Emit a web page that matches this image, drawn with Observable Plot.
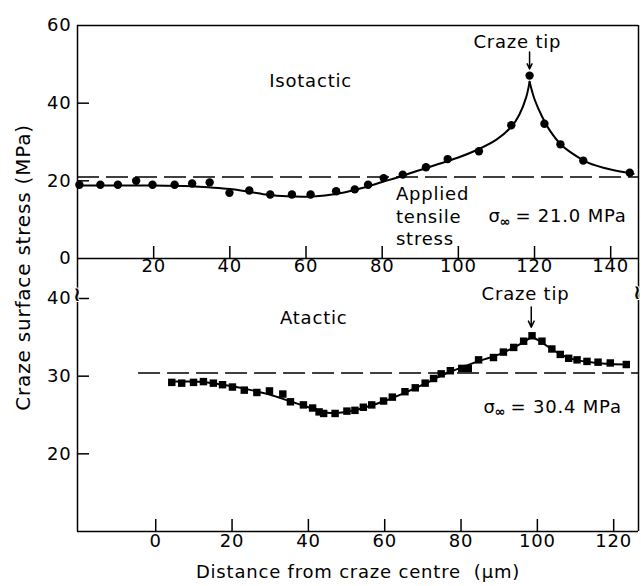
<!DOCTYPE html>
<html><head><meta charset="utf-8">
<script src="https://cdn.jsdelivr.net/npm/d3@7"></script>
<script src="https://cdn.jsdelivr.net/npm/@observablehq/plot@0.6"></script>
<style>
body{margin:0;background:#fff}
#chart{position:relative;width:641px;height:586px;background:#fff}
#chart svg{position:absolute;left:0;top:0}
</style></head><body><div id="chart"></div>
<script>
// ---- Isotactic (top panel) ----
const isoX = [0.5,6.0,10.6,15.4,19.7,25.5,30.1,34.7,39.9,45.1,50.6,56.3,61.2,67.9,72.8,76.3,80.4,85.4,91.5,97.2,105.4,113.9,118.7,122.6,126.8,132.8,145.0];
const isoY = [19.0,19.0,19.0,20.0,19.0,19.0,19.3,19.6,16.9,17.5,16.5,16.5,16.5,17.3,17.8,19.0,20.7,21.6,23.5,25.6,27.6,34.3,47.1,34.7,29.4,25.2,22.1];
const isoCurveLX = [0,10,20,30,35,40,45,50,55,60,65,70,75,80,85,90,95,100,105,110,114,116,117.8,118.7];
const isoCurveLY = [18.8,18.8,18.8,18.6,18.3,17.9,17.2,16.4,16.0,15.9,16.2,17.0,18.2,19.7,21.2,22.8,24.4,26.0,28.0,30.6,34.0,37.0,41.5,45.5];
const isoCurveRX = [118.7,120,122,124,127,130,134,140,146];
const isoCurveRY = [45.5,41.0,36.5,33.0,29.3,27.0,24.7,22.9,21.8];
const isoStress = 21.0;
const isoXTicks = [20,40,60,80,100,120,140];
const isoYTicks = [0,20,40,60];
const isoXDomain = [0,147.3];
const isoYDomain = [0,60];

// ---- Atactic (bottom panel) ----
const atX = [4.2,6.8,9.9,12.5,15.1,17.5,20.1,23.2,26.5,29.8,33.3,35.3,38.7,41.1,42.8,44.0,47.0,50.1,52.2,54.4,56.6,59.7,62.0,65.3,68.0,70.6,72.8,74.8,77.2,80.2,81.9,84.6,88.5,91.1,93.8,96.4,98.6,101.2,103.8,106.0,108.2,110.4,113.0,115.9,119.1,123.3];
const atY = [29.2,29.1,29.2,29.3,29.1,28.9,28.6,28.2,27.9,28.1,27.7,26.7,26.3,25.9,25.4,25.2,25.2,25.5,25.6,26.0,26.3,26.8,27.3,28.0,28.5,29.1,29.7,30.3,30.7,31.0,31.0,32.1,32.4,33.1,33.7,34.5,35.2,34.5,33.5,32.8,32.3,32.1,31.9,31.8,31.7,31.5];
const atCurveLX = [4,10,15,20,25,30,35,40,45,50,55,60,65,70,75,80,85,90,95,98.6];
const atCurveLY = [29.3,29.3,29.1,28.7,28.2,27.6,26.8,26.0,25.3,25.4,26.0,26.8,27.8,28.9,30.1,31.1,32.0,32.8,34.0,35.1];
const atCurveRX = [98.6,101,104,107,110,114,118,123];
const atCurveRY = [35.1,34.4,33.4,32.6,32.1,31.8,31.6,31.5];
const atStress = 30.4;
const atStressStart = -4.5;
const atXTicks = [0,20,40,60,80,100,120];
const atYTicks = [20,30,40];
const atXDomain = [-20.5,126.5];
const atYDomain = [10,45.15];

// ---- annotations ----
const isoTitle = {t:"Isotactic", x:61.2, y:45.6};
const isoTip = {t:"Craze tip", x:115.5, y:55.8, ax:118.7, ay1:53.2, ay2:48.8};
const isoApplied = {t:"Applied\ntensile\nstress", x:83.6, y:11.1};
const isoSigma = {x:107.9, y:10.8, v:"= 21.0 MPa"};
const atTitle = {t:"Atactic", x:41.4, y:37.4};
const atTip = {t:"Craze tip", x:96.9, y:40.6, ax:98.4, ay1:38.9, ay2:36.3};
const atSigma = {x:85.9, y:26.0, v:"= 30.4 MPa"};
const yLabel = {t:"Craze surface stress (MPa)", y:-2.3};
const xLabel = "Distance from craze centre  (μm)";

const W = 641, H = 586, FONT = "'DejaVu Sans', sans-serif", FS = 18;
const mL = 77, mR = 3;
const base = {width:W, height:H, marginLeft:mL, marginRight:mR,
  style:{background:"transparent", fontFamily:FONT, overflow:"visible", letterSpacing:"0.8px", color:"black"}};
const zip = (xs, ys, seg) => xs.map((x,i)=>({x, y:ys[i], seg}));

const topT = 25, topB = 258, botT = 258, botB = 531;
const frameW = W - mL - mR;
const sigmaMarks = (s) => [
  Plot.text([s], {x:"x", y:"y", text:()=>"σ", textAnchor:"start", fontSize:FS, fill:"black"}),
  Plot.text([s], {x:"x", y:"y", text:()=>"∞", textAnchor:"start", dx:11, dy:5, fontSize:13, fontWeight:"bold", fill:"black"}),
  Plot.text([s], {x:"x", y:"y", text:"v", textAnchor:"start", dx:27, fontSize:FS, fill:"black"})
];
const breakMark = (anchor, dx, dy) => Plot.text(["≀"], {text:d=>d, frameAnchor:anchor, textAnchor:"middle", dx, dy, fontSize:20, fontWeight:"bold", fill:"black", stroke:"white", strokeWidth:2});

const topPlot = Plot.plot({
  ...base, marginTop: topT, marginBottom: H - topB,
  x:{domain: isoXDomain, axis:null}, y:{domain: isoYDomain, axis:null},
  marks: [
    Plot.ruleY(isoYDomain, {stroke:"black", strokeWidth:1.5}),
    Plot.ruleX(isoXDomain, {stroke:"black", strokeWidth:1.5}),
    Plot.ruleY([isoStress], {stroke:"black", strokeWidth:1.5, strokeDasharray:"22,7"}),
    Plot.tickX(isoXTicks, {x:d=>d, insetTop:(topB-topT)-12, stroke:"black", strokeWidth:1.5}),
    Plot.tickY(isoYTicks.slice(1,-1), {y:d=>d, insetRight:frameW-12, stroke:"black", strokeWidth:1.5}),
    Plot.text(isoXTicks, {x:d=>d, text:d=>String(d), frameAnchor:"bottom", dy:13, fontSize:FS, fill:"black"}),
    Plot.text(isoYTicks, {y:d=>d, text:d=>String(d), frameAnchor:"left", dx:-6, textAnchor:"end", fontSize:FS, fill:"black"}),
    Plot.line([...zip(isoCurveLX, isoCurveLY, "L"), ...zip(isoCurveRX, isoCurveRY, "R")],
      {x:"x", y:"y", z:"seg", curve:"catmull-rom", stroke:"black", strokeWidth:2}),
    Plot.dot(zip(isoX, isoY), {x:"x", y:"y", r:4.2, fill:"black", stroke:"none"}),
    Plot.text([isoTitle], {x:"x", y:"y", text:"t", fontSize:FS, fill:"black"}),
    Plot.text([isoTip], {x:"x", y:"y", text:"t", fontSize:FS, fill:"black"}),
    Plot.arrow([isoTip], {x1:"ax", x2:"ax", y1:"ay1", y2:"ay2", stroke:"black", strokeWidth:1.5, headLength:7, headAngle:50}),
    Plot.text([isoApplied], {x:"x", y:"y", text:"t", textAnchor:"start", lineHeight:1.25, fontSize:FS, fill:"black"}),
    ...sigmaMarks(isoSigma),
    Plot.text([yLabel], {y:"y", text:"t", frameAnchor:"left", textAnchor:"middle", rotate:-90, dx:23-mL, fontSize:20, fill:"black"})
  ]
});

const botPlot = Plot.plot({
  ...base, marginTop: botT, marginBottom: H - botB,
  x:{domain: atXDomain, axis:null}, y:{domain: atYDomain, axis:null},
  marks: [
    Plot.ruleY([atYDomain[0]], {stroke:"black", strokeWidth:1.5}),
    Plot.ruleX(atXDomain, {stroke:"black", strokeWidth:1.5}),
    Plot.ruleY([atStress], {x1:atStressStart, x2:atXDomain[1], stroke:"black", strokeWidth:1.5, strokeDasharray:"22,7"}),
    Plot.tickX(atXTicks, {x:d=>d, insetTop:(botB-botT)-12, stroke:"black", strokeWidth:1.5}),
    Plot.tickY(atYTicks, {y:d=>d, insetRight:frameW-12, stroke:"black", strokeWidth:1.5}),
    Plot.text(atXTicks, {x:d=>d, text:d=>String(d), frameAnchor:"bottom", dy:15, fontSize:FS, fill:"black"}),
    Plot.text(atYTicks, {y:d=>d, text:d=>String(d), frameAnchor:"left", dx:-6, textAnchor:"end", fontSize:FS, fill:"black"}),
    Plot.line([...zip(atCurveLX, atCurveLY, "L"), ...zip(atCurveRX, atCurveRY, "R")],
      {x:"x", y:"y", z:"seg", curve:"catmull-rom", stroke:"black", strokeWidth:2}),
    Plot.dot(zip(atX, atY), {x:"x", y:"y", symbol:"square", r:4.2, fill:"black", stroke:"none"}),
    Plot.text([atTitle], {x:"x", y:"y", text:"t", fontSize:FS, fill:"black"}),
    Plot.text([atTip], {x:"x", y:"y", text:"t", fontSize:FS, fill:"black"}),
    Plot.arrow([atTip], {x1:"ax", x2:"ax", y1:"ay1", y2:"ay2", stroke:"black", strokeWidth:1.5, headLength:7, headAngle:50}),
    ...sigmaMarks(atSigma),
    breakMark("top-left", 0, 28),
    breakMark("top-right", -1, 26),
    Plot.text([xLabel], {text:d=>d, frameAnchor:"bottom", dy:46, fontSize:FS, fill:"black"})
  ]
});

document.getElementById("chart").append(topPlot, botPlot);
</script>
</body></html>
